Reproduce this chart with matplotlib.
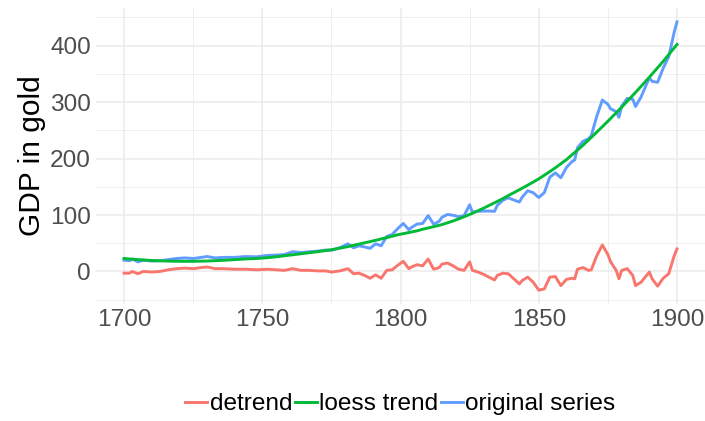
import matplotlib.pyplot as plt
from matplotlib.ticker import MultipleLocator

# Data
years = [1700, 1702, 1703, 1705, 1707, 1710, 1713, 1716, 1719, 1722, 1725, 1728, 1730,
         1733, 1736, 1740, 1744, 1748, 1752, 1755, 1758, 1761, 1764, 1767, 1770, 1773,
         1775, 1778, 1781, 1783, 1785, 1787, 1789, 1791, 1793, 1795, 1797, 1799, 1801,
         1803, 1804, 1806, 1808, 1810, 1812, 1814, 1815, 1817, 1819, 1821, 1823, 1825,
         1826, 1828, 1830, 1832, 1834, 1835, 1837, 1839, 1841, 1843, 1844, 1846, 1848,
         1850, 1852, 1854, 1856, 1858, 1860, 1862, 1863, 1864, 1866, 1868, 1869, 1871,
         1873, 1875, 1876, 1878, 1879, 1880, 1882, 1884, 1885, 1887, 1890, 1891, 1893,
         1895, 1897, 1899, 1900]

original = [20, 19, 22, 17, 20, 18.5, 19, 21, 23, 24, 23, 25, 26.5,
            24, 25, 25, 26.5, 26, 28.5, 29, 30, 35, 33.5, 35, 36, 38,
            37.5, 42, 49, 42, 45.5, 43.5, 41, 49, 45.5, 62, 65.5, 76, 85,
            74, 78, 84, 85, 99, 83.5, 89, 96, 101, 99.5, 97, 99, 118,
            105, 106.5, 107, 107, 106.5, 117, 126, 130.5, 126.5, 123, 131.5, 143, 139.5,
            131, 139.5, 167, 174.5, 166, 184, 194.5, 197.5, 219, 230.5, 235, 240.5, 275,
            303.5, 296, 288, 283, 273, 293, 306.5, 305, 292, 309, 343, 336.5, 335,
            360, 380, 424, 442]

trend = [23, 22.2, 21.8, 21, 20.4, 19.5, 18.9, 18.4, 18.1, 18, 18, 18.3, 18.5,
         19.1, 19.8, 21, 22.2, 23, 24.5, 26, 27.8, 29.6, 31.4, 33.2, 35, 37.1,
         38.5, 41.2, 44.1, 46.3, 48.5, 50.7, 52.9, 55.2, 57.6, 60, 62.4, 65, 67,
         69, 70, 72, 74.8, 77, 79.4, 81.8, 83, 86.2, 89.4, 93, 97, 101,
         103, 107.5, 112, 116.8, 121.6, 124, 129, 134.4, 139.6, 144.8, 147.4, 152.8, 158.4,
         164, 170.4, 176.8, 183.6, 190.8, 198, 206.4, 210.6, 214.8, 223.6, 232.8, 237.4, 246.8,
         256.4, 266, 271, 281, 286, 291, 301.4, 311.8, 317, 327.8, 344, 349.6, 360.8,
         372, 384, 396, 402]

detrend = [-3, -3, 0, -4, 0, -1, 0, 3, 5, 6, 5, 7, 8,
           5, 5, 4, 4, 3, 4, 3, 2, 5, 2, 2, 1, 1,
           -1, 1, 5, -4, -3, -7, -12, -6, -12, 2, 3, 11, 18,
           5, 8, 12, 10, 22, 4, 7, 13, 15, 10, 4, 2, 17,
           2, -1, -5, -10, -15, -7, -3, -4, -13, -22, -16, -10, -19,
           -33, -31, -10, -9, -25, -14, -12, -13, 4, 7, 2, 3, 28,
           47, 30, 17, 2, -13, 2, 5, -7, -25, -19, -1, -13, -26,
           -12, -4, 28, 40]

plt.rcParams['font.family'] = ['Liberation Sans', 'DejaVu Sans']

fig = plt.figure(figsize=(7.05, 4.21), dpi=100)
ax = fig.add_axes([0.1367, 0.279, 0.8628, 0.701])

l_det, = ax.plot(years, detrend, color='#F8766D', lw=2.1, label='detrend', zorder=3)
l_orig, = ax.plot(years, original, color='#619CFF', lw=2.1, label='original series', zorder=3)
l_tr, = ax.plot(years, trend, color='#00BA38', lw=2.1, label='loess trend', zorder=4)

ax.margins(x=0.05, y=0.05)

ax.xaxis.set_major_locator(MultipleLocator(50))
ax.xaxis.set_minor_locator(MultipleLocator(25))
ax.yaxis.set_major_locator(MultipleLocator(100))
ax.yaxis.set_minor_locator(MultipleLocator(50))
ax.grid(which='major', color='#EBEBEB', lw=1.1)
ax.grid(which='minor', color='#EBEBEB', lw=0.55)
ax.set_axisbelow(True)
for s in ax.spines.values():
    s.set_visible(False)
ax.tick_params(which='both', length=0, labelsize=17.6, labelcolor='#4D4D4D')
ax.tick_params(axis='x', pad=4)
ax.tick_params(axis='y', pad=4)

ax.set_ylabel('GDP in gold', fontsize=21.5, color='black', labelpad=3)

fig.legend(handles=[l_det, l_tr, l_orig], loc='center', bbox_to_anchor=(0.568, 0.04),
           ncol=3, frameon=False, fontsize=17.6, handlelength=0.9,
           handletextpad=0.1, columnspacing=0.1, borderaxespad=0)

fig.savefig('out.png', dpi=100)
